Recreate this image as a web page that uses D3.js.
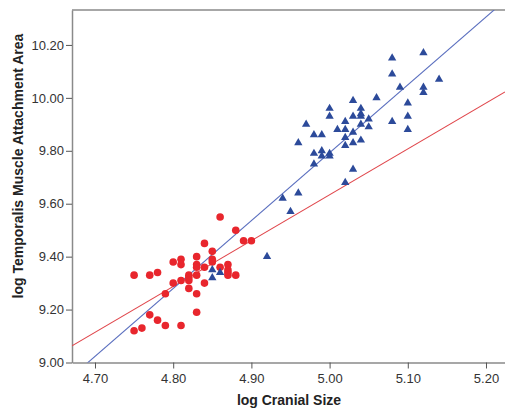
<!DOCTYPE html>
<html>
<head>
<meta charset="utf-8">
<script src="https://cdn.jsdelivr.net/npm/d3@7"></script>
<style>
  body { margin: 0; background: #fff; }
  text { font-family: "Liberation Sans", Arial, sans-serif; }
</style>
</head>
<body>
<svg width="505" height="412"></svg>
<script>
// red circles: [log cranial size, log temporalis area]
const redX = [4.86, 4.88, 4.89, 4.90, 4.84, 4.85, 4.83, 4.80, 4.81, 4.81, 4.85, 4.85, 4.83, 4.83, 4.84, 4.86,
  4.87, 4.87, 4.87, 4.87, 4.88, 4.82, 4.82, 4.82, 4.81, 4.80, 4.83, 4.84, 4.82, 4.83, 4.79, 4.75,
  4.77, 4.78, 4.83, 4.77, 4.78, 4.79, 4.81, 4.75, 4.76];
const redY = [9.55, 9.50, 9.46, 9.46, 9.45, 9.42, 9.40, 9.38, 9.39, 9.37, 9.39, 9.38, 9.37, 9.36, 9.36, 9.36,
  9.37, 9.35, 9.34, 9.33, 9.33, 9.33, 9.32, 9.31, 9.31, 9.30, 9.33, 9.30, 9.28, 9.26, 9.26, 9.33,
  9.33, 9.34, 9.19, 9.18, 9.16, 9.14, 9.14, 9.12, 9.13];

// blue triangles
const blueX = [5.08, 5.12, 5.08, 5.14, 5.09, 5.12, 5.12, 5.03, 5.06, 5.10, 5.00, 5.00, 5.04, 5.04, 5.04, 5.03,
  5.05, 5.02, 5.08, 5.10, 4.97, 5.01, 5.02, 5.04, 5.05, 5.03, 5.10, 4.98, 4.99, 5.02, 5.04, 5.03,
  5.02, 4.96, 4.98, 4.99, 4.99, 5.00, 5.00, 4.98, 5.03, 5.02, 4.96, 4.94, 4.95, 4.92, 4.85, 4.86, 4.85];
const blueY = [10.15, 10.17, 10.09, 10.07, 10.04, 10.04, 10.02, 9.99, 10.00, 9.98, 9.96, 9.93, 9.96, 9.94, 9.93, 9.93,
  9.92, 9.91, 9.91, 9.93, 9.90, 9.88, 9.88, 9.90, 9.89, 9.87, 9.88, 9.86, 9.86, 9.85, 9.84, 9.83,
  9.82, 9.83, 9.79, 9.80, 9.78, 9.79, 9.78, 9.75, 9.73, 9.68, 9.64, 9.62, 9.57, 9.40, 9.35, 9.34, 9.32];

// fit lines: y = y0 + slope * (x - x0)
const redFit = { x0: 4.6706, y0: 9.063, slope: 1.733 };
const blueFit = { x0: 4.691, y0: 9.00, slope: 2.565 };

const xTicks = [4.70, 4.80, 4.90, 5.00, 5.10, 5.20];
const yTicks = [9.00, 9.20, 9.40, 9.60, 9.80, 10.00, 10.20];

const svg = d3.select("svg");
const plotLeft = 72, plotRight = 505, plotTop = 10, plotBottom = 362.5;

const x = d3.scaleLinear().domain([4.6706, 5.2243]).range([plotLeft, plotRight]);
const y = d3.scaleLinear().domain([9.00, 10.332]).range([plotBottom, plotTop]);

svg.append("defs").append("clipPath")
  .attr("id", "clip")
  .append("rect")
  .attr("x", plotLeft).attr("y", plotTop)
  .attr("width", plotRight - plotLeft).attr("height", plotBottom - plotTop);

const axisColor = "#8a8a8a";

// top frame line
svg.append("line").attr("x1", plotLeft).attr("x2", plotRight).attr("y1", plotTop).attr("y2", plotTop)
  .attr("stroke", axisColor).attr("stroke-width", 1.5);

const xAxis = svg.append("g")
  .attr("transform", `translate(0,${plotBottom})`)
  .call(d3.axisBottom(x).tickValues(xTicks).tickFormat(d3.format(".2f")).tickSize(6).tickSizeOuter(0));

const yAxis = svg.append("g")
  .attr("transform", `translate(${plotLeft},0)`)
  .call(d3.axisLeft(y).tickValues(yTicks).tickFormat(d3.format(".2f")).tickSize(6).tickSizeOuter(0));

[xAxis, yAxis].forEach(a => {
  a.select(".domain").attr("stroke", axisColor).attr("stroke-width", 1.5);
  a.selectAll(".tick line").attr("stroke", "#555");
  a.selectAll(".tick text")
    .attr("fill", "#333")
    .style("font-size", "13px")
    .style("font-family", "'Liberation Sans', Arial, sans-serif");
});
xAxis.selectAll(".tick text").attr("dy", "0.9em");
yAxis.selectAll(".tick text").attr("x", -8);

const plot = svg.append("g").attr("clip-path", "url(#clip)");

function fitLine(f) {
  const [d0, d1] = x.domain();
  return [d0, d1].map(v => [x(v), y(f.y0 + f.slope * (v - f.x0))]);
}

plot.append("path")
  .attr("d", d3.line()(fitLine(redFit)))
  .attr("stroke", "#e0474c").attr("stroke-width", 1.1).attr("fill", "none");

plot.append("path")
  .attr("d", d3.line()(fitLine(blueFit)))
  .attr("stroke", "#5b6fbf").attr("stroke-width", 1.1).attr("fill", "none");

const redPts = redX.map((v, i) => ({ x: v, y: redY[i] }));
const bluePts = blueX.map((v, i) => ({ x: v, y: blueY[i] }));

plot.selectAll(".red-dot")
  .data(redPts)
  .join("circle")
  .attr("class", "red-dot")
  .attr("cx", d => x(d.x))
  .attr("cy", d => y(d.y))
  .attr("r", 3.8)
  .attr("fill", "#e8262d");

const tri = d3.symbol().type(d3.symbolTriangle).size(30);
plot.selectAll(".blue-tri")
  .data(bluePts)
  .join("path")
  .attr("class", "blue-tri")
  .attr("d", tri)
  .attr("transform", d => `translate(${x(d.x)},${y(d.y)})`)
  .attr("fill", "#2c4a9a");

// axis titles
svg.append("text")
  .attr("x", 289)
  .attr("y", 405)
  .attr("text-anchor", "middle")
  .style("font-size", "14px")
  .style("font-weight", "bold")
  .attr("fill", "#222")
  .text("log Cranial Size");

svg.append("text")
  .attr("transform", "rotate(-90)")
  .attr("x", -166)
  .attr("y", 23)
  .attr("text-anchor", "middle")
  .style("font-size", "14px")
  .style("font-weight", "bold")
  .attr("fill", "#222")
  .text("log Temporalis Muscle Attachment Area");
</script>
</body>
</html>
